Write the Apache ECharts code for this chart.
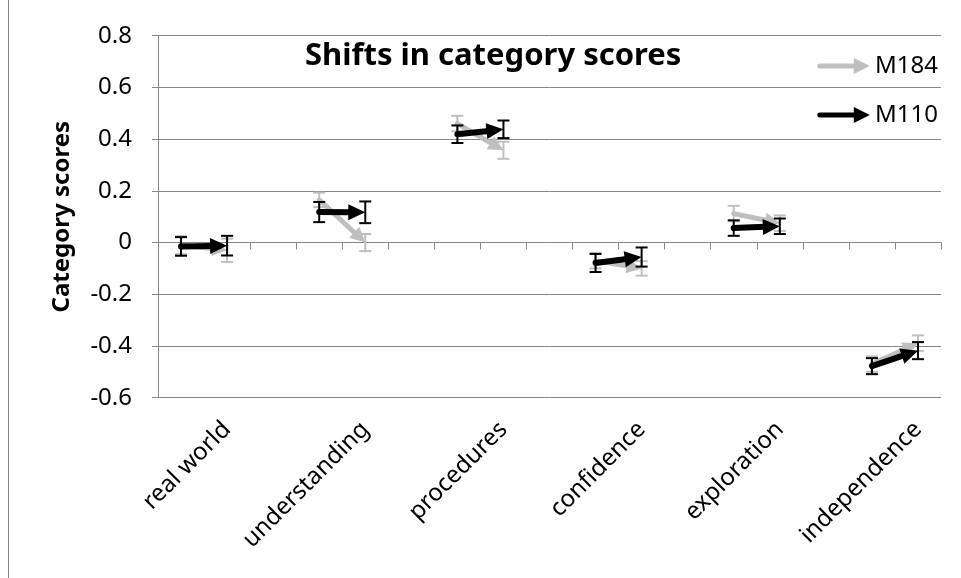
<!DOCTYPE html>
<html>
<head>
<meta charset="utf-8">
<script src="https://cdn.jsdelivr.net/npm/echarts@6/dist/echarts.min.js"></script>
<style>
  html, body { margin: 0; padding: 0; background: #fff; }
  #chart { width: 961px; height: 578px; }
</style>
</head>
<body>
<div id="chart"></div>
<script>
// Category names (one label per category)
const categories = ['real world', 'understanding', 'procedures', 'confidence', 'exploration', 'independence'];

// M184: score before and after, with error half-widths
const m184Before = [-0.01, 0.165, 0.46, -0.07, 0.112, -0.47];
const m184After = [-0.03, 0.0, 0.357, -0.1, 0.075, -0.389];
const m184ErrBefore = [0.035, 0.028, 0.03, 0.03, 0.03, 0.03];
const m184ErrAfter = [0.045, 0.033, 0.033, 0.028, 0.03, 0.03];

// M110: score before and after, with error half-widths
const m110Before = [-0.015, 0.118, 0.419, -0.079, 0.056, -0.478];
const m110After = [-0.012, 0.117, 0.438, -0.056, 0.063, -0.418];
const m110ErrBefore = [0.036, 0.039, 0.034, 0.035, 0.03, 0.031];
const m110ErrAfter = [0.038, 0.042, 0.034, 0.037, 0.03, 0.033];

// Value axis ticks
const yMin = -0.6, yMax = 0.8, yStep = 0.2;

// Each category takes three slots on the axis: before, after (labelled), gap
const slots = [];
categories.forEach((c, k) => {
  slots.push(c + '__before', c);
  if (k < categories.length - 1) slots.push(c + '__gap');
});

function buildData(before, after, errB, errA) {
  return categories.map((c, k) => [3 * k, before[k], 3 * k + 1, after[k], errB[k], errA[k]]);
}

const FONT = 'Noto Sans';
const GRID = '#868686';

function arrowRenderer(color, shaftW, headL, headW, barW, capW) {
  return function (params, api) {
    const i0 = api.value(0), v0 = api.value(1), i1 = api.value(2), v1 = api.value(3);
    const e0 = api.value(4), e1 = api.value(5);
    const p0 = api.coord([i0, v0]);
    const p1 = api.coord([i1, v1]);
    const children = [];
    // error bars
    [[i0, v0, e0], [i1, v1, e1]].forEach(([i, v, e]) => {
      const top = api.coord([i, v + e]);
      const bot = api.coord([i, v - e]);
      const st = { stroke: color, lineWidth: barW, fill: null };
      children.push({ type: 'line', shape: { x1: top[0], y1: top[1], x2: bot[0], y2: bot[1] }, style: st });
      children.push({ type: 'line', shape: { x1: top[0] - capW / 2, y1: top[1], x2: top[0] + capW / 2, y2: top[1] }, style: st });
      children.push({ type: 'line', shape: { x1: bot[0] - capW / 2, y1: bot[1], x2: bot[0] + capW / 2, y2: bot[1] }, style: st });
    });
    // arrow from before to after
    const dx = p1[0] - p0[0], dy = p1[1] - p0[1];
    const len = Math.sqrt(dx * dx + dy * dy) || 1;
    const ux = dx / len, uy = dy / len;
    const nx = -uy, ny = ux;
    const bx = p1[0] - ux * headL, by = p1[1] - uy * headL;
    children.push({
      type: 'line',
      shape: { x1: p0[0], y1: p0[1], x2: bx + ux * 2, y2: by + uy * 2 },
      style: { stroke: color, lineWidth: shaftW, lineCap: 'round', fill: null }
    });
    children.push({
      type: 'polygon',
      shape: { points: [[p1[0], p1[1]], [bx + nx * headW / 2, by + ny * headW / 2], [bx - nx * headW / 2, by - ny * headW / 2]] },
      style: { fill: color }
    });
    return { type: 'group', children: children };
  };
}

const arrowIcon = 'path://M3,5.5 L37,5.5 L37,0 L53,8 L37,16 L37,10.5 L3,10.5 A2.5,2.5 0 0 1 3,5.5 Z';

const chart = echarts.init(document.getElementById('chart'), null, { renderer: 'canvas' });

chart.setOption({
  backgroundColor: '#fff',
  animation: false,
  textStyle: { fontFamily: FONT },
  title: {
    text: 'Shifts in category scores',
    left: 300,
    top: 36,
    textStyle: { fontFamily: FONT, fontWeight: 'bold', fontSize: 31, color: '#000' }
  },
  legend: {
    orient: 'vertical',
    right: 18,
    top: 49,
    itemWidth: 53,
    itemHeight: 16,
    itemGap: 25,
    data: [
      { name: 'M184', icon: arrowIcon },
      { name: 'M110', icon: arrowIcon }
    ],
    textStyle: { fontFamily: FONT, fontSize: 24, color: '#000' }
  },
  grid: { left: 158, right: 20, top: 35.7, bottom: 180.3, containLabel: false },
  xAxis: {
    type: 'category',
    data: slots,
    boundaryGap: true,
    axisLine: { show: true, lineStyle: { color: GRID, width: 1 } },
    axisTick: { show: true, interval: 0, length: 7, lineStyle: { color: GRID } },
    axisLabel: {
      interval: 0,
      rotate: 45,
      margin: 28,
      fontFamily: FONT,
      fontSize: 24,
      color: '#000',
      formatter: (v, idx) => (idx % 3 === 1 ? v : '')
    },
    splitLine: { show: false }
  },
  yAxis: {
    type: 'value',
    min: yMin,
    max: yMax,
    interval: yStep,
    name: 'Category scores',
    nameLocation: 'middle',
    nameRotate: 90,
    nameGap: 84,
    nameTextStyle: { fontFamily: FONT, fontWeight: 'bold', fontSize: 24, color: '#000' },
    axisLine: { show: true, lineStyle: { color: GRID, width: 1 } },
    axisTick: { show: true, length: 6, lineStyle: { color: GRID } },
    axisLabel: {
      margin: 26,
      fontFamily: FONT,
      fontSize: 24,
      color: '#000',
      formatter: v => String(Math.round(v * 10) / 10)
    },
    splitLine: { show: true, lineStyle: { color: GRID, width: 1 } }
  },
  graphic: [
    { type: 'line', shape: { x1: 8.5, y1: 0, x2: 8.5, y2: 578 }, style: { stroke: GRID, lineWidth: 1 } }
  ],
  series: [
    {
      name: 'M184',
      type: 'custom',
      clip: false,
      itemStyle: { color: '#bfbfbf' },
      encode: { x: [0, 2], y: [1, 3] },
      renderItem: arrowRenderer('#bfbfbf', 5, 15, 15, 2, 12),
      data: buildData(m184Before, m184After, m184ErrBefore, m184ErrAfter),
      z: 2
    },
    {
      name: 'M110',
      type: 'custom',
      clip: false,
      itemStyle: { color: '#000000' },
      encode: { x: [0, 2], y: [1, 3] },
      renderItem: arrowRenderer('#000000', 6, 17, 16, 2, 12),
      data: buildData(m110Before, m110After, m110ErrBefore, m110ErrAfter),
      z: 3
    }
  ]
});
</script>
</body>
</html>
